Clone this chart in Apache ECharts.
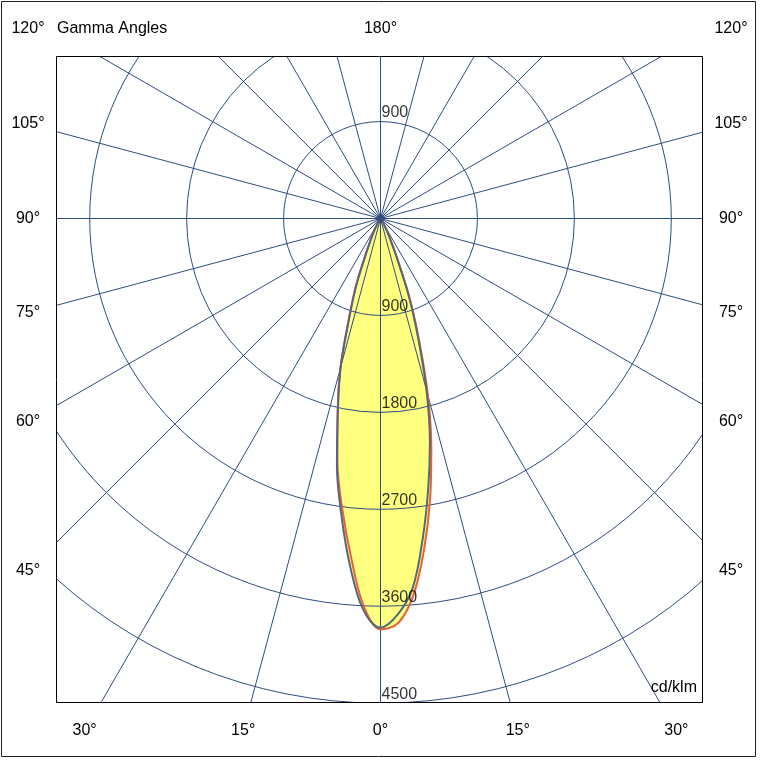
<!DOCTYPE html>
<html>
<head>
<meta charset="utf-8">
<title>Gamma Angles</title>
<script src="https://cdn.jsdelivr.net/npm/echarts@6/dist/echarts.min.js"></script>
<style>
  html, body { margin: 0; padding: 0; background: #fff; }
  #chart { width: 760px; height: 760px; }
</style>
</head>
<body>
<div id="chart"></div>
<script>
// gamma angles from nadir (deg), same list for every half-plane below
var gammaAngles = [0, 2.5, 5, 7.5, 10, 12.5, 15, 17.5, 20, 22.5, 25, 27.5, 30, 35, 40, 45, 60, 75, 90];

// intensities in cd/klm
var blueLeft  = [3800, 3640, 3240, 2780, 2330, 1830, 1430, 960, 650, 350, 200, 120, 60, 20, 5, 0, 0, 0, 0];
var blueRight = [3800, 3680, 3440, 3000, 2550, 2120, 1650, 1160, 780, 410, 220, 130, 60, 20, 5, 0, 0, 0, 0];
var redLeft   = [3815, 3600, 3150, 2720, 2300, 1840, 1440, 980, 670, 360, 210, 120, 60, 20, 5, 0, 0, 0, 0];
var redRight  = [3815, 3760, 3510, 3100, 2650, 2180, 1700, 1200, 800, 420, 220, 130, 60, 20, 5, 0, 0, 0, 0];

var radiusTicks = [900, 1800, 2700, 3600, 4500];
var gammaTicks = [0, 15, 30, 45, 60, 75, 90, 105, 120];

var cx = 380.5, cy = 218.5;
var pxPerUnit = 0.1077;
var rMax = 5400;
var gridColor = '#2f4d80';
var fillColor = '#ffff80';
var curveSmooth = 0.35;
var fontFamily = '"Liberation Sans", Arial, sans-serif';
var labelFrame = { left: 28, right: 731, top: 29, bottom: 731 };

// left half uses negative angles so 0 sits at the bottom
function halfPlanes(left, right) {
    var pts = [];
    for (var i = gammaAngles.length - 1; i > 0; i--) pts.push([left[i], -gammaAngles[i]]);
    for (var j = 0; j < gammaAngles.length; j++) pts.push([right[j], gammaAngles[j]]);
    return pts;
}

var redCurve = halfPlanes(redLeft, redRight);
var blueCurve = halfPlanes(blueLeft, blueRight);

var radiusLabelPoints = [[radiusTicks[0], 180]].concat(radiusTicks.map(function (r) { return [r, 0]; }));

function gammaLabelPos(g, side) {
    var rad = g * Math.PI / 180;
    var sx = Math.sin(rad), sy = Math.cos(rad);
    var side_dx = cx - labelFrame.left;
    var tBottom = sy > 1e-9 ? (labelFrame.bottom - cy) / sy : Infinity;
    var tSide = sx > 1e-9 ? side_dx / sx : Infinity;
    if (tBottom <= tSide) {
        return [cx + side * sx * tBottom, labelFrame.bottom];
    }
    var x = side < 0 ? labelFrame.left : labelFrame.right;
    return [x, Math.max(labelFrame.top, cy + sy * tSide)];
}

function textEl(str, x, y, align) {
    return {
        type: 'text', x: x, y: y, z: 110, silent: true,
        style: {
            text: str, fill: '#000', fontSize: 16, fontFamily: fontFamily,
            align: align || 'center', verticalAlign: 'middle'
        }
    };
}

var graphics = [
    // white masks so the polar grid stops at the plot box
    { type: 'rect', z: 100, silent: true, shape: { x: 0, y: 0, width: 760, height: 56 }, style: { fill: '#fff' } },
    { type: 'rect', z: 100, silent: true, shape: { x: 0, y: 703, width: 760, height: 57 }, style: { fill: '#fff' } },
    { type: 'rect', z: 100, silent: true, shape: { x: 0, y: 0, width: 56, height: 760 }, style: { fill: '#fff' } },
    { type: 'rect', z: 100, silent: true, shape: { x: 703, y: 0, width: 57, height: 760 }, style: { fill: '#fff' } },
    { type: 'rect', z: 110, silent: true, shape: { x: 56.5, y: 56.5, width: 646, height: 646 }, style: { fill: 'none', stroke: '#000', lineWidth: 1 } },
    { type: 'rect', z: 110, silent: true, shape: { x: 1.5, y: 1.5, width: 754, height: 755 }, style: { fill: 'none', stroke: '#222', lineWidth: 1 } },
    textEl('Gamma Angles', 57, labelFrame.top, 'left'),
    textEl('180°', cx, labelFrame.top),
    textEl('cd/klm', 697, 688, 'right')
];

gammaTicks.forEach(function (g) {
    var sides = g === 0 ? [1] : [-1, 1];
    sides.forEach(function (s) {
        var p = gammaLabelPos(g, s);
        graphics.push(textEl(g + '°', p[0], p[1]));
    });
});

var myChart = echarts.init(document.getElementById('chart'));

var option = {
    backgroundColor: '#fff',
    animation: false,
    textStyle: { fontFamily: fontFamily },
    polar: {
        center: [cx, cy],
        radius: rMax * pxPerUnit
    },
    angleAxis: {
        type: 'value',
        min: -180,
        max: 180,
        interval: 15,
        startAngle: 90,
        clockwise: false,
        z: 2,
        axisLine: { show: false },
        axisTick: { show: false },
        axisLabel: { show: false },
        splitLine: { show: true, lineStyle: { color: gridColor, width: 1 } }
    },
    radiusAxis: {
        type: 'value',
        min: 0,
        max: rMax,
        interval: 900,
        z: 2,
        axisLine: { show: false },
        axisTick: { show: false },
        axisLabel: { show: false },
        splitLine: { show: true, lineStyle: { color: gridColor, width: 1 } }
    },
    series: [
        {
            name: 'fill red', type: 'line', coordinateSystem: 'polar', data: redCurve,
            symbol: 'none', silent: true, z: 1, smooth: curveSmooth,
            lineStyle: { width: 0, opacity: 0 },
            areaStyle: { color: fillColor, opacity: 1 }
        },
        {
            name: 'fill blue', type: 'line', coordinateSystem: 'polar', data: blueCurve,
            symbol: 'none', silent: true, z: 1, smooth: curveSmooth,
            lineStyle: { width: 0, opacity: 0 },
            areaStyle: { color: fillColor, opacity: 1 }
        },
        {
            name: 'C0-C180', type: 'line', coordinateSystem: 'polar', data: redCurve,
            symbol: 'none', silent: true, z: 3, smooth: curveSmooth,
            lineStyle: { color: '#e8603a', width: 2 }
        },
        {
            name: 'C90-C270', type: 'line', coordinateSystem: 'polar', data: blueCurve,
            symbol: 'none', silent: true, z: 3, smooth: curveSmooth,
            lineStyle: { color: '#56667e', width: 2 }
        },
        {
            name: 'centre', type: 'scatter', coordinateSystem: 'polar', data: [[0, 0]],
            symbol: 'circle', symbolSize: 7, silent: true, z: 4,
            itemStyle: { color: '#34497a' }
        },
        {
            name: 'radius labels', type: 'scatter', coordinateSystem: 'polar', data: radiusLabelPoints,
            symbolSize: 1, silent: true, z: 4,
            itemStyle: { color: 'transparent' },
            label: {
                show: true, position: 'top', distance: 0, align: 'left', offset: [1, 0],
                color: '#000', fontSize: 16, fontFamily: fontFamily,
                formatter: function (p) { return p.value[0]; }
            }
        }
    ],
    graphic: graphics
};

myChart.setOption(option);
</script>
</body>
</html>
